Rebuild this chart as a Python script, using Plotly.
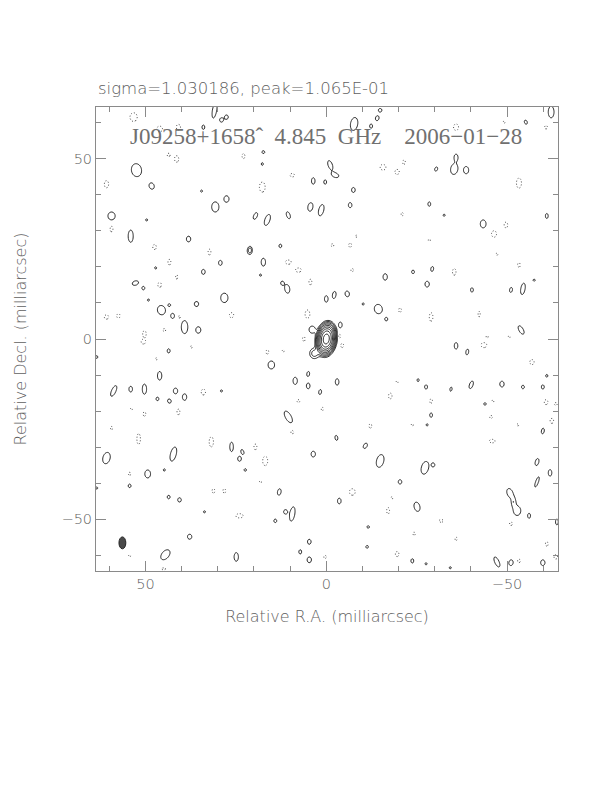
import numpy as np
import plotly.graph_objects as go

# ---------------- data (milliarcsec) ----------------
# positive noise islands: x, y, half-width, half-height, tilt (deg, + leans top to the right)
pos_x = [30.9, 29.0, 27.6, 34.0, 52.5, 48.3, 34.5, 27.6, 30.7, 59.4, 49.7, 54.1, 38.1, 21.3, 29.3, 47.2, 34.0, 52.8, 50.6, 28.2,
         35.9, 49.2, 45.6, 43.4, 42.5, 39.2, 35.4, -7.7, -14.1, -12.4, -14.9, -1.1, -2.5, 3.6, 0.3, -7.5, -6.6, 4.4, 1.4, 19.6,
         16.3, 10.5, 21.0, 12.7, 17.4, 18.2, 10.8, 12.2, -16.3, 0.0, -2.2, -5.8, -14.4, -16.6, -10.2, -3.9, 17.7, 17.4, -62.2, -55.2,
         -35.9, -30.4, -35.4, -38.7, -28.5, -32.6, -61.0, -43.4, -24.0, -29.3, -27.9, -40.3, -51.1, -54.4, -57.5, -53.9, 43.6, 63.5, 46.1, 58.8,
         54.1, 50.3, 41.7, 39.2, 46.7, 43.4, 29.0, 60.8, 42.3, 26.2, 23.2, 24.0, 49.4, 54.4, 22.4, 43.6, 40.6, 44.8, 63.5, 33.7,
         37.8, 44.5, 24.9, 15.2, 8.6, 5.0, 5.0, 1.7, -3.0, 10.5, -2.8, -10.8, 3.6, -14.9, -20.4, 13.0, -3.6, 9.4, 11.3, 14.1,
         -11.6, -11.3, 4.7, 7.2, 4.7, -35.9, -39.0, -25.4, -27.6, -34.5, -40.1, -48.6, -54.4, -59.9, -61.0, -43.9, -29.0, -27.9, -59.9, -27.3,
         -29.6, -58.3, -58.3, -61.9, -50.8, -52.8, -51.8, -56.1, -63.8, -25.1, -23.8, -27.6, -34.3, -47.2, -51.1, -59.9]
pos_y = [63.4, 60.7, 61.5, 58.7, 46.8, 42.4, 41.0, 38.8, 36.6, 34.1, 33.0, 28.5, 27.7, 24.4, 21.1, 19.7, 18.6, 15.5, 14.1, 11.4,
         9.7, 10.8, 8.0, 9.4, 6.4, 3.3, 2.5, 59.6, 61.2, 59.0, 63.4, 48.2, 45.4, 43.8, 43.5, 41.3, 37.1, 36.6, 35.7, 34.1,
         33.0, 34.3, 24.7, 25.8, 21.3, 17.7, 13.9, 15.5, 17.2, 11.1, 12.2, 12.5, 8.3, 5.5, 9.7, 3.9, 48.5, 51.8, 62.9, 60.1,
         50.4, 47.1, 47.1, 46.8, 37.4, 34.3, 34.1, 31.9, 18.6, 19.4, 15.2, 13.6, 13.6, 13.9, 16.3, 2.5, -3.3, -5.0, -10.2, -14.4,
         -13.9, -13.9, -14.4, -16.1, -16.6, -17.2, -14.4, -33.0, -31.9, -29.9, -31.3, -33.2, -37.4, -40.7, -36.3, -43.8, -44.6, -36.3, -41.3, -47.9,
         -54.8, -59.8, -60.4, -7.2, -11.6, -9.7, -13.0, -14.7, -11.9, -21.6, -27.4, -29.6, -31.9, -33.8, -39.6, -42.4, -44.9, -48.5, -47.9, -50.4,
         -52.1, -57.6, -56.2, -59.0, -61.2, -1.9, -3.6, -11.4, -13.3, -13.9, -12.7, -12.5, -13.3, -13.3, -10.2, -18.0, -21.1, -23.8, -25.5, -35.7,
         -34.9, -34.1, -39.6, -37.1, -42.7, -47.6, -45.2, -49.0, -50.7, -46.5, -61.5, -62.3, -63.4, -61.8, -62.0, -62.0]
pos_rx = [0.6, 0.5, 0.5, 0.4, 1.4, 0.7, 0.3, 0.7, 1.0, 1.0, 0.3, 0.7, 0.6, 0.5, 0.5, 0.3, 0.5, 0.9, 0.4, 1.0,
          0.6, 0.3, 1.1, 0.35, 0.5, 0.9, 0.7, 1.0, 0.5, 0.4, 0.5, 0.6, 1.0, 0.5, 0.4, 0.5, 0.5, 0.7, 0.7, 0.5,
          0.7, 0.5, 0.4, 0.4, 0.6, 0.3, 0.7, 0.4, 0.6, 0.5, 0.5, 0.6, 1.1, 0.4, 0.3, 0.5, 0.3, 0.4, 0.8, 0.4,
          0.5, 0.4, 1.0, 0.7, 0.4, 0.3, 0.4, 0.8, 0.4, 0.4, 0.6, 0.4, 0.4, 0.6, 0.3, 0.6, 0.4, 0.3, 0.6, 0.6,
          0.5, 0.6, 0.6, 0.6, 0.4, 0.5, 0.3, 1.0, 0.8, 0.5, 0.4, 0.5, 0.8, 0.4, 0.35, 0.4, 0.5, 0.3, 0.3, 0.3,
          0.6, 1.0, 0.6, 0.9, 0.6, 0.4, 0.5, 0.4, 0.5, 0.8, 0.4, 0.5, 0.6, 1.0, 0.5, 0.5, 0.5, 0.7, 0.5, 0.4,
          0.35, 0.35, 0.5, 0.4, 0.6, 0.5, 0.4, 0.3, 0.4, 0.3, 0.5, 0.6, 0.4, 0.4, 0.3, 0.35, 0.4, 0.3, 0.4, 1.0,
          0.4, 0.5, 0.4, 0.5, 0.8, 1.0, 0.5, 0.4, 0.4, 0.8, 0.4, 0.3, 0.3, 0.6, 0.6, 0.6]
pos_ry = [2.2, 0.6, 0.6, 0.6, 1.8, 0.9, 0.3, 0.9, 1.4, 1.1, 0.3, 1.7, 0.8, 0.8, 0.7, 0.3, 0.7, 0.6, 0.5, 1.3,
          0.7, 0.3, 1.3, 0.35, 0.7, 1.8, 0.9, 1.8, 0.7, 0.6, 0.5, 1.3, 0.6, 0.9, 0.6, 0.7, 0.7, 1.2, 1.6, 1.0,
          1.6, 1.0, 0.7, 0.5, 1.1, 0.3, 1.2, 0.5, 0.9, 0.9, 1.0, 0.8, 1.3, 0.5, 0.3, 0.8, 0.4, 0.4, 1.6, 0.6,
          0.8, 0.6, 1.5, 1.0, 0.6, 0.3, 0.7, 1.1, 0.5, 0.7, 0.8, 0.6, 0.7, 1.6, 0.3, 1.3, 0.6, 0.4, 1.2, 1.6,
          0.8, 1.4, 0.8, 0.9, 0.5, 0.6, 0.3, 1.6, 2.0, 1.3, 0.7, 0.7, 1.1, 0.5, 0.35, 0.5, 0.6, 0.3, 0.3, 0.3,
          0.7, 1.6, 1.2, 1.1, 1.0, 0.7, 0.8, 0.7, 0.9, 1.8, 0.7, 0.8, 0.8, 1.8, 0.6, 0.9, 0.8, 2.0, 0.6, 0.5,
          0.35, 0.4, 0.7, 0.6, 0.8, 0.9, 0.8, 0.4, 0.6, 0.6, 1.1, 0.8, 0.5, 0.6, 0.4, 0.35, 0.6, 0.3, 0.8, 1.8,
          0.5, 1.0, 1.5, 0.9, 1.3, 1.3, 1.0, 0.7, 0.8, 1.3, 0.6, 0.3, 0.3, 1.5, 0.8, 0.8]
pos_tilt = [10, 0, 0, 0, -10, -20, 0, 0, 0, 0, 0, 0, 0, 0, 0, 0, 0, -20, 0, 0,
            0, 0, -15, 0, 0, 0, 0, 10, 15, 0, 0, -20, 20, 0, 0, 0, 0, 10, 15, 25,
            20, -20, 0, 0, 0, 0, -10, 0, 0, 0, 10, -10, -15, 0, 0, 0, 0, 0, 0, -20,
            0, 20, 10, 0, 0, 0, 0, 0, 0, 10, 0, 0, 10, 10, 0, -30, 0, 0, 0, 25,
            0, 0, 0, 0, 0, -20, 0, 15, 15, 0, -20, 0, 0, 0, 0, 0, 0, 0, 0, 0,
            0, 40, 0, 0, 0, 10, 0, 10, 0, -30, -10, 30, 0, 15, 0, 10, 0, 10, 0, 0,
            0, 0, 0, 0, 0, 0, 10, 0, 0, 10, 20, 0, 0, 0, 0, 0, 0, 0, 10, 15,
            0, 15, 20, 0, -20, 0, 0, 0, 0, -15, 0, 0, 0, -25, 10, 0]

# negative noise islands: x, y, half-width, half-height
neg_x = [53.3, 46.1, 40.9, 41.4, 43.6, 60.8, 59.4, 47.5, 32.3, 43.4, 41.4, 46.1, 60.8, 57.5, 40.6, 26.2, 50.3, 44.8, 22.9, -15.7,
         -19.6, -21.5, 9.4, 17.7, 10.5, 7.7, 4.4, -1.7, -6.6, -8.3, -7.2, -20.4, 5.2, -21.0, -35.9, -49.2, -60.8, -53.3, -46.4, -49.7,
         -28.5, -35.4, -53.3, -47.2, -29.0, -42.3, -44.5, -50.6, 50.6, 47.0, 37.3, 34.0, 50.3, 40.9, 53.9, 59.4, 51.9, 31.8, 54.4, 31.2,
         28.2, 24.0, 54.4, 45.0, 16.3, 11.9, 7.7, 1.1, -12.2, 9.4, 19.6, 16.9, -17.7, -19.6, -7.2, -17.1, -18.2, 0.3, -19.6, 18.2,
         -43.6, -56.9, -29.0, -46.1, -60.8, -63.5, -45.6, -62.4, -53.0, -45.9, -23.8, -31.8, -51.1, -24.3, -35.9, -61.0, -53.3, -63.5, -3.6, -4.4,
         6.2, 5.2]
neg_y = [61.5, 58.2, 58.7, 49.9, 51.0, 42.9, 30.5, 25.5, 24.1, 21.3, 17.2, 15.0, 6.1, 6.4, 6.1, 6.6, 1.4, 2.5, 50.7, 47.6,
         46.3, 49.0, 45.4, 42.1, 21.3, 19.1, 15.8, 26.0, 26.0, 28.5, 19.1, 8.0, 6.6, 34.6, 58.7, 60.1, 58.7, 43.2, 29.1, 31.6,
         27.4, 18.6, 20.5, 23.5, 6.1, 6.9, 0.6, 0.6, -0.8, -5.5, -2.2, -14.7, -20.8, -20.2, -19.4, -24.7, -27.7, -28.5, -37.4, -42.1,
         -42.1, -49.0, -60.1, -63.7, -3.6, -3.3, -17.2, -19.4, -24.1, -25.8, -29.9, -33.8, -15.8, -11.9, -42.4, -47.6, -44.0, -60.4, -59.6, -39.6,
         -1.7, -6.4, -17.2, -17.2, -17.5, -18.0, -21.6, -22.7, -23.8, -28.3, -23.8, -50.4, -51.2, -54.0, -55.4, -56.8, -61.5, -60.4, 0.8, -1.8,
         0.0, 7.2]
neg_rx = [1.0, 0.8, 0.6, 0.6, 0.4, 0.6, 0.4, 0.5, 0.4, 0.4, 0.3, 0.5, 0.6, 0.5, 0.4, 0.6, 0.5, 0.4, 0.4, 0.8,
          0.6, 0.4, 0.6, 0.8, 0.8, 0.8, 0.4, 0.4, 0.4, 0.3, 0.4, 0.4, 0.5, 0.3, 0.7, 0.3, 0.4, 0.7, 0.7, 0.5,
          0.3, 0.5, 0.4, 0.3, 0.5, 0.3, 0.3, 0.3, 0.6, 0.3, 0.3, 0.6, 0.4, 0.4, 0.3, 0.3, 0.5, 0.6, 0.3, 0.4,
          0.4, 1.0, 0.3, 0.6, 0.4, 0.3, 0.4, 0.3, 0.4, 0.4, 0.4, 0.7, 0.5, 0.3, 0.8, 0.4, 0.3, 0.4, 0.5, 0.3,
          0.8, 0.6, 0.4, 0.3, 0.5, 0.4, 0.4, 0.5, 0.3, 0.8, 0.3, 0.6, 0.4, 0.3, 0.3, 0.4, 0.4, 0.5, 0.4, 0.4,
          0.4, 0.4]
neg_ry = [1.2, 0.8, 0.8, 0.9, 0.5, 1.0, 0.8, 0.7, 0.8, 0.8, 0.6, 0.7, 0.6, 0.6, 0.4, 0.7, 0.9, 0.4, 0.7, 0.8,
          0.7, 0.6, 0.5, 1.4, 0.6, 0.6, 0.8, 0.4, 0.6, 0.3, 0.4, 0.6, 0.7, 0.5, 0.9, 0.3, 0.5, 1.4, 0.9, 0.8,
          0.3, 0.9, 0.6, 0.3, 1.2, 0.8, 0.3, 0.3, 0.6, 0.3, 0.3, 0.8, 0.6, 0.8, 0.3, 0.5, 1.5, 1.4, 0.5, 0.6,
          0.6, 0.6, 0.3, 0.3, 0.6, 0.3, 0.4, 0.5, 0.6, 0.5, 0.8, 1.3, 0.8, 0.3, 0.9, 0.9, 0.3, 0.4, 0.7, 0.3,
          0.7, 0.7, 0.6, 0.3, 0.7, 0.4, 0.4, 0.7, 0.3, 0.5, 0.3, 0.4, 0.5, 0.5, 0.5, 0.6, 0.5, 0.6, 0.6, 0.6,
          0.6, 0.7]

# core components: x, y, peak (in units of the lowest contour), sigma-x, sigma-y, tilt
core_x = [0.0, 3.3, 3.9]
core_y = [0.0, -4.0, 2.6]
core_amp = [390.0, 2.8, 1.8]
core_sx = [0.9, 0.9, 0.8]
core_sy = [1.5, 1.0, 0.9]
core_tilt = [8, 0, 0]

noise_peak = 1.65           # island peak relative to lowest contour
n_levels = 9                # positive contour levels 1,2,4,...,256

# restoring beam (mas)
beam_x, beam_y = 56.4, -56.5
beam_maj, beam_min = 3.3, 1.9

header_text = "sigma=1.030186, peak=1.065E-01"
map_title = ("J09258+1658\u02c6\u00a0\u00a04.845\u00a0\u00a0GHz\u00a0\u00a0\u00a0\u00a0"
             "2006\u221201\u221228")
x_title = "Relative R.A. (milliarcsec)"
y_title = "Relative Decl. (milliarcsec)"
x_range = [63.7, -64.1]
y_range = [-64.3, 64.3]

# ---------------- build image ----------------
step = 0.25
xg = np.arange(-64.75, 64.76, step)
yg = np.arange(-64.75, 64.76, step)
X, Y = np.meshgrid(xg, yg)
Z = np.zeros_like(X)


def add_component(x0, y0, amp, sx, sy, tilt):
    w = 6 * max(sx, sy)
    ix = np.where(np.abs(xg - x0) <= w)[0]
    iy = np.where(np.abs(yg - y0) <= w)[0]
    if len(ix) == 0 or len(iy) == 0:
        return
    sl = (slice(iy[0], iy[-1] + 1), slice(ix[0], ix[-1] + 1))
    th = np.radians(tilt)
    u = -(X[sl] - x0)
    v = Y[sl] - y0
    a = u * np.sin(th) + v * np.cos(th)
    b = u * np.cos(th) - v * np.sin(th)
    Z[sl] += amp * np.exp(-0.5 * ((b / sx) ** 2 + (a / sy) ** 2))


for i in range(len(core_x)):
    add_component(core_x[i], core_y[i], core_amp[i], core_sx[i], core_sy[i], core_tilt[i])
for i in range(len(pos_x)):
    add_component(pos_x[i], pos_y[i], noise_peak, pos_rx[i], pos_ry[i], pos_tilt[i])
for i in range(len(neg_x)):
    add_component(neg_x[i], neg_y[i], -noise_peak, neg_rx[i], neg_ry[i], 0)

zpos = np.round(np.log2(np.clip(Z, 0.125, None)), 3).astype(np.float32)
zneg = np.round(np.log2(np.clip(-Z, 0.125, None)), 3).astype(np.float32)

line_col = "#222222"
axis_col = "#8a8a8a"
text_col = "#606060"
sans = "DejaVu Sans"

fig = go.Figure()
fig.add_trace(go.Contour(
    x=xg, y=yg, z=zneg,
    contours=dict(start=0, end=0.5, size=1, coloring="lines"),
    line=dict(width=1, dash="1px,2px"),
    colorscale=[[0, "#444444"], [1, "#444444"]],
    showscale=False, hoverinfo="skip"))
fig.add_trace(go.Contour(
    x=xg, y=yg, z=zpos,
    contours=dict(start=0, end=n_levels - 1, size=1, coloring="lines"),
    line=dict(width=1),
    colorscale=[[0, line_col], [1, line_col]],
    showscale=False, hoverinfo="skip"))

fig.add_shape(type="circle", xref="x", yref="y",
              x0=beam_x - beam_min / 2, x1=beam_x + beam_min / 2,
              y0=beam_y - beam_maj / 2, y1=beam_y + beam_maj / 2,
              fillcolor="#4a4a4a", line=dict(color="#222222", width=1))

axis_common = dict(
    showgrid=False, zeroline=False, showline=True, linecolor=axis_col, linewidth=1,
    mirror="allticks", ticks="inside", ticklen=10, tickcolor=axis_col, tickwidth=1,
    tick0=0, dtick=50,
    minor=dict(dtick=10, ticks="inside", ticklen=5, tickcolor=axis_col, tickwidth=1),
    tickfont=dict(family=sans, size=14.5, color=text_col, weight=200),
)
fig.update_xaxes(range=x_range, title=dict(text=x_title, standoff=19,
                 font=dict(family=sans, size=16, color=text_col, weight=200)), **axis_common)
fig.update_yaxes(range=y_range, title=dict(text=y_title, standoff=30,
                 font=dict(family=sans, size=16, color=text_col, weight=200)), **axis_common)

fig.add_annotation(text=header_text, xref="paper", yref="paper", x=0, y=1,
                   xanchor="left", yanchor="bottom", yshift=7, showarrow=False,
                   font=dict(family=sans, size=16.5, color=text_col, weight=200))
fig.add_annotation(text=map_title, xref="x", yref="y", x=0, y=56,
                   xanchor="center", yanchor="middle", showarrow=False,
                   font=dict(family="Liberation Serif", size=23, color="#707070"))

# the page body adds an 8 px offset, so margins are reduced by that amount
fig.update_layout(
    width=612, height=792, autosize=False,
    margin=dict(l=88, r=62, t=99, b=229),
    paper_bgcolor="white", plot_bgcolor="white",
    showlegend=False,
)

fig.write_html("out.html")
